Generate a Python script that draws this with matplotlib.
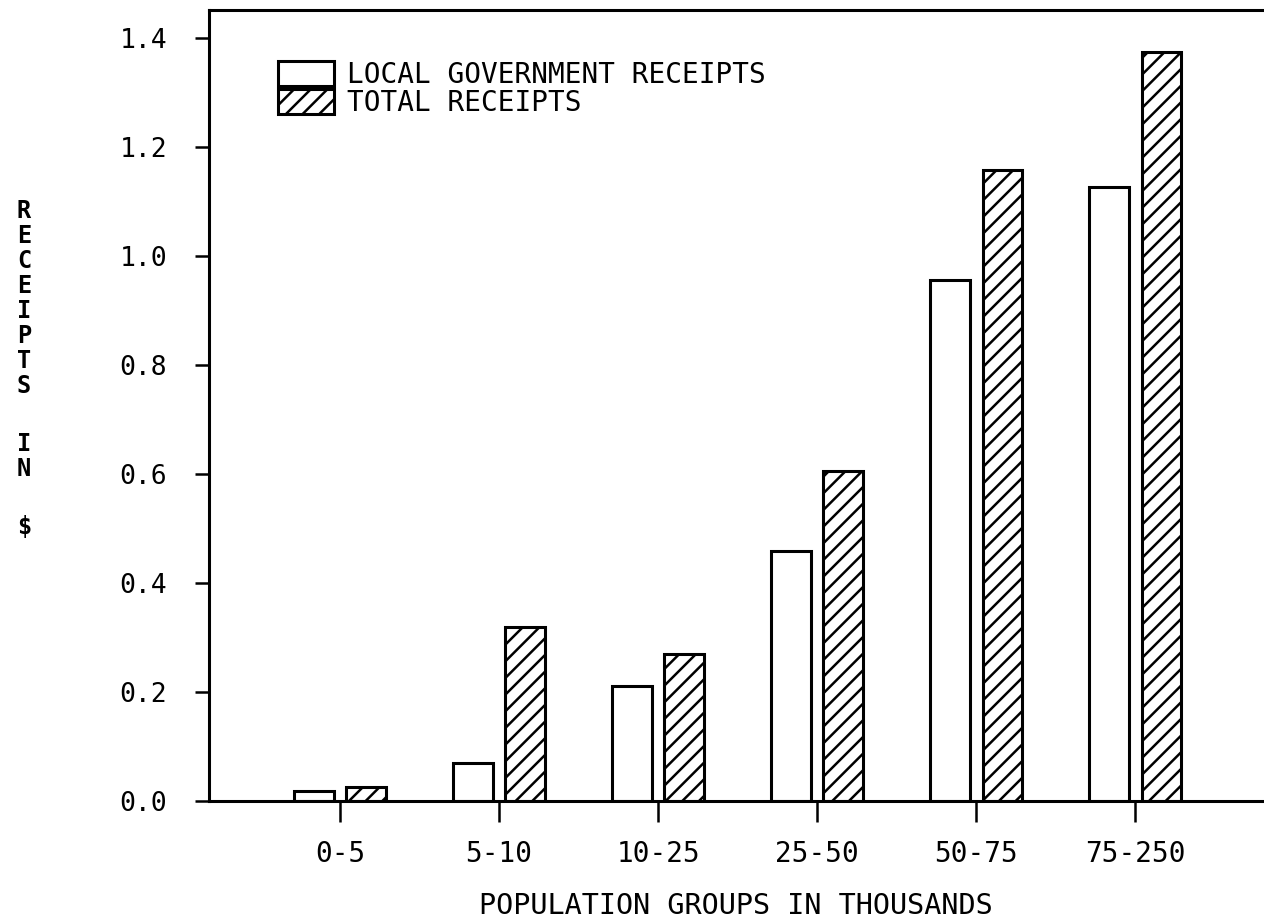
## receipts per population group, redrawn from an old plotter chart
import matplotlib
matplotlib.use("Agg")
import matplotlib.pyplot as plt
import numpy as np

## data
groups = ["0-5", "5-10", "10-25", "25-50", "50-75", "75-250"]
local_receipts = [0.018, 0.070, 0.211, 0.459, 0.956, 1.127]
total_receipts = [0.026, 0.319, 0.270, 0.606, 1.158, 1.374]
yticks = [0.0, 0.2, 0.4, 0.6, 0.8, 1.0, 1.2, 1.4]
ylabel_words = ["RECEIPTS", "IN", "$"]

## plotter-ish look
plt.rc('font', family='DejaVu Sans Mono')
plt.rc('hatch', linewidth=1.8)

fig = plt.figure(figsize=(12.64, 9.23), dpi=100)
ax = fig.add_axes([209/1264, 1-801/923, 1055/1264, 791/923])

x = np.arange(len(groups))
w = 0.25
ax.bar(x - 0.165, local_receipts, w, facecolor="white", edgecolor="black",
       linewidth=2.2, label="LOCAL GOVERNMENT RECEIPTS")
ax.bar(x + 0.165, total_receipts, w, facecolor="white", edgecolor="black",
       linewidth=2.2, hatch="//", label="TOTAL RECEIPTS")

ax.set_xlim(-0.824, 5.81)
ax.set_ylim(0, 1.451)
ax.set_xticks(x)
ax.set_xticklabels(groups, fontsize=20)
ax.set_yticks(yticks)
ax.set_yticklabels(["%.1f" % v for v in yticks], fontsize=19)

ax.tick_params(axis='x', direction='out', length=15, width=1.8, pad=13)
ax.tick_params(axis='y', direction='out', length=10, width=1.8, pad=20)

ax.spines['right'].set_visible(False)
for s in ['left', 'top', 'bottom']:
    ax.spines[s].set_linewidth(2.2)

## x label placed by hand so it does not fall off the bottom
fig.text(736/1264, 1 - 906/923, "POPULATION GROUPS IN THOUSANDS", fontsize=20.5,
         ha='center', va='center')

## stacked letters for the y label, words separated by a gap
ypix = 211
for word in ylabel_words:
    for ch in word:
        fig.text(24/1264, 1 - ypix/923, ch, fontsize=17,
                 ha='center', va='center', fontweight='bold')
        ypix += 25
    ypix += 33

ax.legend(loc='upper left', bbox_to_anchor=(0.0654, 0.9355), frameon=False,
          fontsize=20, handlelength=2.0, handleheight=1.0, labelspacing=0.0,
          handletextpad=0.5, borderpad=0.0, borderaxespad=0.0)

plt.savefig("out.png", dpi=100)
